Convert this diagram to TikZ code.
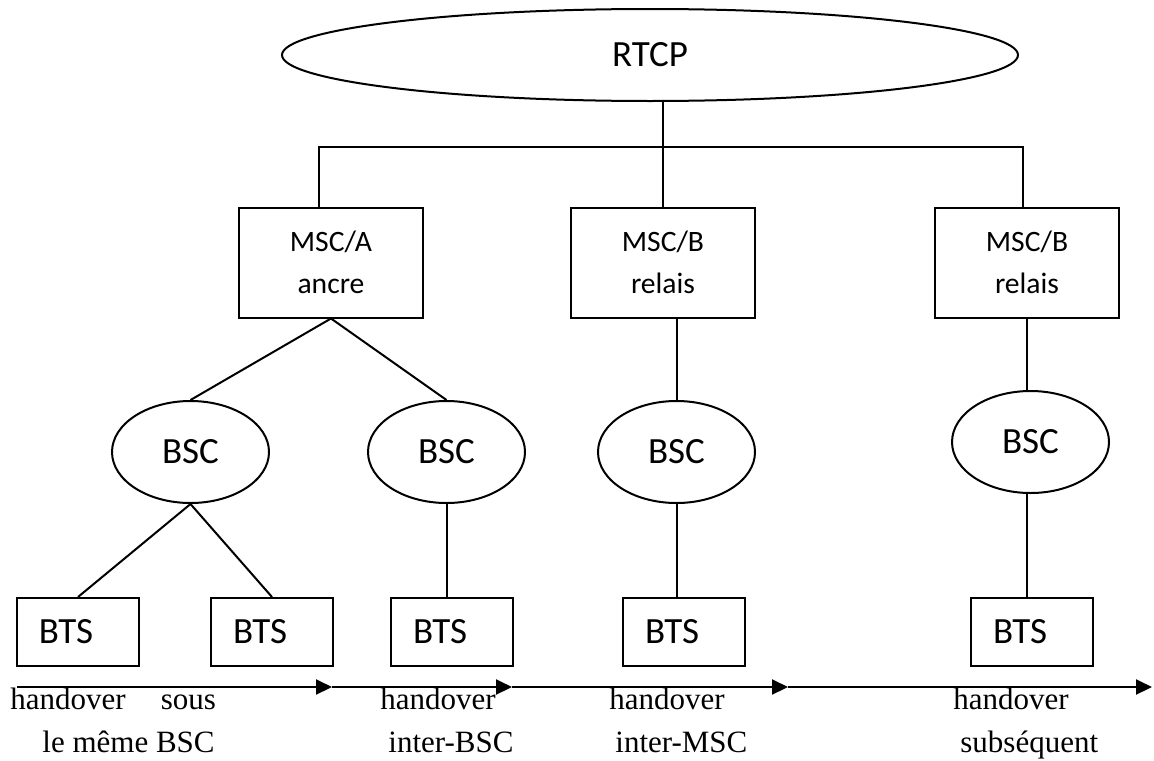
\documentclass[tikz,border=0pt]{standalone}
\usepackage{fontspec}
\usepackage{tikz}
\usetikzlibrary{arrows.meta,positioning,shapes.geometric}
\newfontfamily\carlito{Carlito}
\newfontfamily\timesf{Liberation Serif}
\tikzset{
  outl/.style={draw=black,line width=1pt,inner sep=0pt,text=black},
  ovl/.style={outl,ellipse,font=\carlito\fontsize{18.5}{22}\selectfont},
  bsc/.style={ovl,minimum width=78.5pt,minimum height=51pt},
  msc/.style={outl,rectangle,minimum width=92pt,minimum height=55pt,align=center,
    font=\carlito\fontsize{14.8}{21}\selectfont},
  bts/.style={outl,rectangle,minimum height=34pt,text width=39pt,inner xsep=11pt,
    align=left,font=\carlito\fontsize{18.5}{22}\selectfont},
  link/.style={line width=1pt},
  flow/.style={-{Triangle[length=8pt,width=7.5pt]},line width=1pt},
  lbl/.style={anchor=base west,inner sep=0pt,align=left,
    font=\timesf\fontsize{15.5}{21.5}\selectfont}
}
\begin{document}
\begin{tikzpicture}[x=0.5pt,y=0.5pt]
  \useasboundingbox (0,0) rectangle (1154,-760);
  % core network
  \node[ovl,minimum width=368pt,minimum height=46pt] (rtcp) at (650,-55) {RTCP};
  \node[msc] (mscA) at (331,-262.5) {MSC/A\\ancre};
  \node[msc] (mscB) at (663,-262.5) {MSC/B\\relais};
  \node[msc] (mscC) at (1027,-262.5) {MSC/B\\relais};
  % controllers and stations
  \node[bsc] (bscA) at (190.5,-452) {BSC};
  \node[bsc] (bscB) at (446.5,-452) {BSC};
  \node[bsc] (bscC) at (676.5,-452) {BSC};
  \node[bsc] (bscD) at (1030.5,-442) {BSC};
  \node[bts] (btsA) at (78,-632) {BTS};
  \node[bts] (btsB) at (272,-632) {BTS};
  \node[bts] (btsC) at (452,-632) {BTS};
  \node[bts] (btsD) at (684,-632) {BTS};
  \node[bts] (btsE) at (1032,-632) {BTS};
  % links
  \coordinate (busL) at (319,-147);
  \coordinate (busR) at (1023,-147);
  \draw[link] (mscA.north -| busL) -- (busL) -- (busR) -- (mscC.north -| busR);
  \draw[link] (mscB.north) -- (mscB.north |- rtcp.south);
  \draw[link] (mscA.south) -- (bscA.north);
  \draw[link] (mscA.south) -- (bscB.north);
  \draw[link] (bscC.north) -- (bscC.north |- mscB.south);
  \draw[link] (mscC.south) -- (mscC.south |- bscD.north);
  \draw[link] (bscA.south) -- (btsA.north);
  \draw[link] (bscA.south) -- (btsB.north);
  \draw[link] (bscB.south) -- (bscB.south |- btsC.north);
  \draw[link] (bscC.south) -- (bscC.south |- btsD.north);
  \draw[link] (mscC.south |- bscD.south) -- (mscC.south |- btsE.north);
  % handover axis
  \coordinate (h0) at (17,-687);
  \coordinate (h1) at (332,-687);
  \coordinate (h2) at (512,-687);
  \coordinate (h3) at (788,-687);
  \coordinate (h4) at (1152,-687);
  \foreach \a/\b in {h0/h1,h1/h2,h2/h3,h3/h4}
    \draw[flow] (\a) -- (\b);
  \node[lbl] (lA) at (10,-752) {handover\hspace{17.5pt}sous\\\hspace*{16pt}le même BSC};
  \node[lbl] (lB) at (380,-752) {handover\\\hspace*{4pt}inter-BSC};
  \node[lbl] (lC) at (609,-752) {handover\\\hspace*{3pt}inter-MSC};
  \node[lbl] (lD) at (953,-752) {handover\\\hspace*{3.5pt}subséquent};
\end{tikzpicture}
\end{document}
